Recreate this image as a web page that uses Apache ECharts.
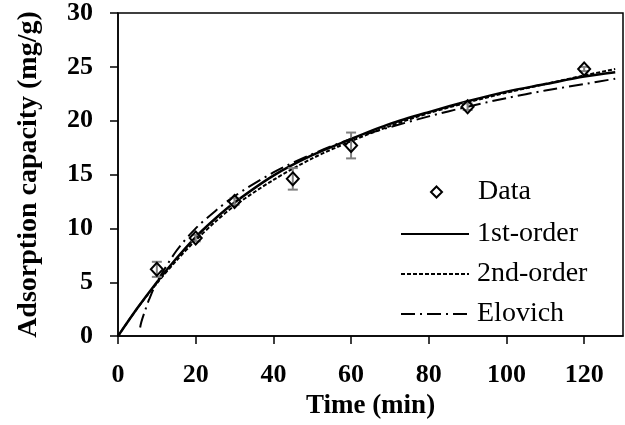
<!DOCTYPE html>
<html><head><meta charset="utf-8">
<script src="https://cdn.jsdelivr.net/npm/echarts@6/dist/echarts.min.js"></script>
<style>html,body{margin:0;padding:0;background:#fff}#c{width:625px;height:425px}</style>
</head><body><div id="c"></div>
<script>
const xTicks = [0, 20, 40, 60, 80, 100, 120];
const yTicks = [0, 5, 10, 15, 20, 25, 30];
const timeData = [10, 20, 30, 45, 60, 90, 120];
const qData = [6.2, 9.1, 12.5, 14.6, 17.7, 21.3, 24.8];
const qErr = [0.7, 0.3, 0.3, 1.0, 1.2, 0.3, 0.2];
const fitTime = [0, 5, 10, 15, 20, 25, 30, 40, 50, 60, 70, 80, 90, 100, 110, 120, 128];
const firstOrder = [0, 2.6, 5.0, 7.2, 9.2, 10.9, 12.4, 14.9, 16.8, 18.3, 19.7, 20.8, 21.8, 22.7, 23.4, 24.1, 24.5];
const secondOrder = [0, 2.6, 4.9, 7.0, 8.9, 10.6, 12.1, 14.5, 16.5, 18.1, 19.5, 20.7, 21.7, 22.6, 23.4, 24.2, 24.8];
const elovichTime = [5.7, 6, 7, 8, 10, 15, 20, 25, 30, 40, 50, 60, 70, 80, 90, 100, 110, 120, 128];
const elovich = [0.8, 1.3, 2.4, 3.4, 5.0, 7.9, 10.0, 11.6, 13.0, 15.2, 16.9, 18.3, 19.4, 20.4, 21.3, 22.1, 22.8, 23.4, 23.9];
const seriesNames = ['Data', '1st-order', '2nd-order', 'Elovich'];

const zip = (a, b) => a.map((v, i) => [v, b[i]]);
const FONT = '"Liberation Serif","Times New Roman",serif';
const chart = echarts.init(document.getElementById('c'), null, {renderer: 'canvas'});
const noSym = {color: 'transparent', borderWidth: 0, opacity: 0};
chart.setOption({
  animation: false,
  grid: {left: 118, right: 2, top: 12, bottom: 83, show: true, borderColor: '#000', borderWidth: 1.5, backgroundColor: 'transparent'},
  xAxis: {
    type: 'value', min: 0, max: 130, interval: 20,
    name: 'Time (min)', nameLocation: 'middle', nameGap: 52,
    nameTextStyle: {fontFamily: FONT, fontWeight: 'bold', fontSize: 27, color: '#000'},
    axisLine: {show: true, lineStyle: {color: '#000', width: 1.5}},
    axisTick: {show: true, inside: false, length: 8, lineStyle: {color: '#000', width: 1.5}},
    axisLabel: {showMaxLabel: false, margin: 26, fontFamily: FONT, fontWeight: 'bold', fontSize: 26, color: '#000',
      formatter: v => xTicks.includes(v) ? String(v) : ''},
    splitLine: {show: false}
  },
  yAxis: {
    type: 'value', min: 0, max: 30, interval: 5,
    name: 'Adsorption capacity (mg/g)', nameLocation: 'middle', nameGap: 75,
    nameTextStyle: {fontFamily: FONT, fontWeight: 'bold', fontSize: 28, color: '#000'},
    axisLine: {show: true, lineStyle: {color: '#000', width: 1.5}},
    axisTick: {show: true, inside: false, length: 8, lineStyle: {color: '#000', width: 1.5}},
    axisLabel: {margin: 25, fontFamily: FONT, fontWeight: 'bold', fontSize: 26, color: '#000',
      formatter: v => yTicks.includes(v) ? String(v) : ''},
    splitLine: {show: false}
  },
  legend: [
    {data: [seriesNames[0]], orient: 'vertical', left: 425, top: 173, itemWidth: 11, itemHeight: 11,
     textStyle: {fontFamily: FONT, fontSize: 28, color: '#000', padding: [0, 0, 0, 31]}},
    {data: seriesNames.slice(1).map(n => ({name: n, itemStyle: noSym})), orient: 'vertical', left: 395, top: 215,
     itemWidth: 68, itemHeight: 14, itemGap: 12,
     textStyle: {fontFamily: FONT, fontSize: 28, color: '#000', padding: [0, 0, 0, 3]}}
  ],
  series: [
    {
      name: 'errorbars', type: 'custom', z: 3,
      data: timeData.map((t, i) => [t, qData[i] - qErr[i], qData[i] + qErr[i]]),
      renderItem: (params, api) => {
        const lo = api.coord([api.value(0), api.value(1)]);
        const hi = api.coord([api.value(0), api.value(2)]);
        const w = 5;
        const st = {stroke: '#808080', lineWidth: 2};
        return {type: 'group', children: [
          {type: 'line', shape: {x1: lo[0], y1: lo[1], x2: hi[0], y2: hi[1]}, style: st},
          {type: 'line', shape: {x1: lo[0] - w, y1: lo[1], x2: lo[0] + w, y2: lo[1]}, style: st},
          {type: 'line', shape: {x1: hi[0] - w, y1: hi[1], x2: hi[0] + w, y2: hi[1]}, style: st}
        ]};
      }
    },
    {
      name: seriesNames[0], type: 'scatter', z: 4, symbol: 'diamond', symbolSize: [12, 13],
      itemStyle: {color: 'rgba(255,255,255,0)', borderColor: '#000', borderWidth: 2, opacity: 1},
      data: zip(timeData, qData)
    },
    {
      name: seriesNames[1], type: 'line', smooth: 0.3, showSymbol: false, symbol: 'none', z: 2,
      lineStyle: {color: '#000', width: 2.5, type: 'solid'}, itemStyle: {color: '#000'},
      data: zip(fitTime, firstOrder)
    },
    {
      name: seriesNames[2], type: 'line', smooth: 0.3, showSymbol: false, symbol: 'none', z: 2,
      lineStyle: {color: '#000', width: 2, type: [4, 2]}, itemStyle: {color: '#000'},
      data: zip(fitTime, secondOrder)
    },
    {
      name: seriesNames[3], type: 'line', smooth: 0.3, showSymbol: false, symbol: 'none', z: 2,
      lineStyle: {color: '#000', width: 2, type: [14, 5, 2, 5]}, itemStyle: {color: '#000'},
      data: zip(elovichTime, elovich)
    }
  ]
});
</script></body></html>
